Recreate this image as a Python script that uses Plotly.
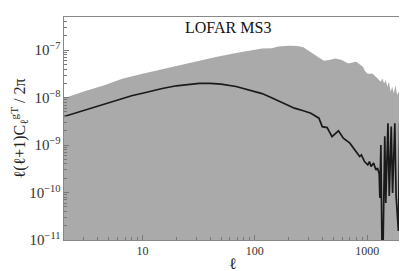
import plotly.graph_objects as go

# ---- data ----
# upper edge of the grey band (the band extends down past the bottom axis)
band_ell = [2, 3, 4.5, 6.6, 10, 15, 20, 28.5, 45, 70, 100, 116, 141, 162, 200, 241, 270, 295,
            315, 340, 360, 385, 411, 460, 520, 594, 640, 678, 740, 802, 860, 916, 960, 1012,
            1119, 1180, 1236, 1280, 1324, 1367, 1413, 1463, 1511, 1563, 1617, 1670, 1727,
            1787, 1846, 1907, 1973, 2000]
band_upper = [9.7e-9, 1.35e-8, 1.8e-8, 2.5e-8, 3.2e-8, 4.0e-8, 4.6e-8, 5.7e-8, 7.2e-8, 8.8e-8,
              1.02e-7, 1.09e-7, 1.1e-7, 1.2e-7, 1.24e-7, 1.23e-7, 1.15e-7, 1.0e-7,
              9.25e-8, 8.2e-8, 7.3e-8, 6.6e-8, 6.0e-8, 6.2e-8, 6.7e-8, 6.2e-8, 5.7e-8, 5.25e-8,
              5.5e-8, 5.7e-8, 5.0e-8, 4.5e-8, 3.6e-8, 3.2e-8,
              3.2e-8, 2.8e-8, 2.54e-8, 2.4e-8, 2.16e-8, 2.54e-8, 2.0e-8, 2.34e-8, 1.7e-8,
              2.16e-8, 1.34e-8, 1.7e-8, 1.23e-8, 1.84e-8, 1.13e-8, 1.34e-8, 9.7e-9, 1.13e-8]
band_floor = 1e-13

# black curve
curve_ell = [2, 3, 4, 5, 6.6, 8, 10, 12.8, 15, 20, 25, 32, 40, 50, 68, 90, 116, 141, 180,
             225, 270, 315, 372, 398, 440, 486, 555, 613, 701, 802, 857, 887, 947, 1012,
             1047, 1083, 1141, 1197, 1236, 1279, 1297, 1324, 1367, 1434, 1463, 1531, 1572,
             1637, 1683, 1762, 1808, 1897, 1948, 2000]
curve_val = [4.0e-9, 5.4e-9, 6.6e-9, 7.7e-9, 9.7e-9, 1.1e-8, 1.24e-8, 1.44e-8, 1.56e-8,
             1.78e-8, 1.9e-8, 2.0e-8, 2.0e-8, 1.93e-8, 1.72e-8, 1.45e-8, 1.22e-8, 1.0e-8,
             7.8e-9, 6.0e-9, 5.3e-9, 4.7e-9, 3.7e-9, 2.45e-9, 2.34e-9, 1.51e-9, 2.0e-9,
             1.4e-9, 1.1e-9, 7.3e-10, 5.75e-10, 6.2e-10, 4.5e-10, 3.84e-10,
             4.5e-10, 3.55e-10, 4.17e-10, 3.0e-10, 3.3e-10, 2.5e-10, 7.7e-11, 1.0e-9, 1e-12,
             1.54e-9, 6e-11, 2.9e-9, 8.5e-11, 2.45e-9, 9.8e-11, 2.9e-9, 8.5e-11, 1.55e-11,
             2.9e-9, 5.2e-11]

title_text = "LOFAR MS3"
x_label = "ℓ"
y_label = "ℓ(ℓ+1)C<sub>ℓ</sub><sup>gT</sup> / 2π"

FONT = "Liberation Serif"
GREY = "#aaaaaa"
FRAME = "#888888"
TICK = "#777777"
X_RANGE = [0.301, 3.301]
Y_RANGE = [-11, -6.3]

fig = go.Figure()
fig.add_trace(go.Scatter(
    x=band_ell + [band_ell[-1], band_ell[0]],
    y=band_upper + [band_floor, band_floor],
    mode="lines", fill="toself", fillcolor=GREY,
    line=dict(width=0, color=GREY), hoverinfo="skip", showlegend=False))
fig.add_trace(go.Scatter(
    x=curve_ell, y=curve_val, mode="lines",
    line=dict(color="#1a1a1a", width=1.7), showlegend=False))

axis_common = dict(
    type="log", showgrid=False, zeroline=False, showline=True, linecolor=FRAME,
    linewidth=1, mirror=True, ticks="inside", ticklen=5, tickcolor=TICK, tickwidth=1,
    tickfont=dict(family=FONT, size=12, color="#333333"),
    tickmode="linear", tick0=0, dtick=1, layer="above traces",
    minor=dict(ticks="inside", ticklen=3, tickcolor=TICK, tickwidth=1, dtick="D1",
               showgrid=False),
)

fig.update_xaxes(**axis_common, range=X_RANGE, exponentformat="none",
                 title=dict(text=x_label, font=dict(family=FONT, size=16, color="#222"),
                            standoff=0))
fig.update_yaxes(**axis_common, range=Y_RANGE, exponentformat="power",
                 title=dict(text=y_label, font=dict(family=FONT, size=16, color="#222"),
                            standoff=2))

fig.add_annotation(text=title_text, xref="paper", yref="paper", x=0.488, y=0.955,
                   xanchor="center", yanchor="middle", showarrow=False,
                   font=dict(family=FONT, size=16, color="#111"))

fig.update_layout(width=407, height=271, margin=dict(l=47, r=14, t=8, b=39),
                  paper_bgcolor="white", plot_bgcolor="white",
                  font=dict(family=FONT))

fig.write_html("out.html")
